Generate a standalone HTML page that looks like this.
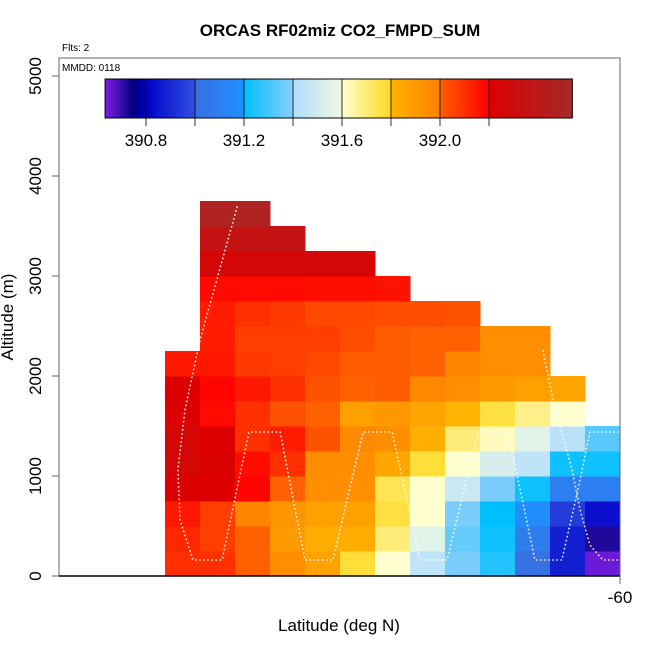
<!DOCTYPE html>
<html><head><meta charset="utf-8"><style>
body{margin:0;background:#fff}
svg{display:block;font-family:"Liberation Sans",sans-serif}
</style></head><body>
<svg id="c" width="650" height="650" viewBox="0 0 650 650">
<text x="340" y="36" text-anchor="middle" font-size="17" font-weight="bold">ORCAS RF02miz CO2_FMPD_SUM</text>
<text x="62" y="51" font-size="10">Flts: 2</text>
<g id="cells"></g>
<g id="track"></g>
<rect x="59" y="58" width="561" height="518" fill="none" stroke="#666" stroke-width="1"/>
<line x1="59" y1="576" x2="620" y2="576" stroke="#000" stroke-width="1.5"/>
<line x1="620" y1="576" x2="620" y2="584" stroke="#666"/>
<text x="620" y="603" text-anchor="middle" font-size="17">-60</text>
<g id="yaxis"></g>
<text x="339" y="631" text-anchor="middle" font-size="17">Latitude (deg N)</text>
<text transform="translate(13,317) rotate(-90)" text-anchor="middle" font-size="17">Altitude (m)</text>
<text x="62" y="71" font-size="10">MMDD: 0118</text>
<g id="cbar"></g>
</svg>
<script>
const NS="http://www.w3.org/2000/svg";
// Data
const latStart=[-73,-72,-71,-70,-69,-68,-67,-66,-65,-64,-63,-62,-61];
const altBin=250;
const col0=[392.10,392.12,392.15,392.20,392.25,392.25,392.22,392.20,392.15];
const col1=[392.10,392.07,392.07,392.20,392.22,392.20,392.18,392.19,392.15,392.14,392.14,392.18,392.25,392.35,392.48];
const col2=[392.00,392.00,391.98,392.19,392.17,392.10,392.10,392.15,392.08,392.07,392.10,392.18,392.25,392.35,392.48];
const col3=[391.94,391.90,391.92,392.00,392.10,392.14,392.03,392.10,392.07,392.07,392.08,392.18,392.25,392.35];
const col4=[391.87,391.83,391.88,391.94,391.95,392.03,392.00,392.03,392.05,392.07,392.05,392.17,392.25];
const col5=[391.77,391.83,391.87,391.94,391.94,391.96,391.88,392.00,392.01,392.04,392.05,392.17,392.25];
const col6=[391.60,391.70,391.76,391.74,391.85,391.94,391.91,392.01,392.01,392.01,392.04,392.16];
const col7=[391.45,391.55,391.60,391.60,391.77,391.82,391.86,391.97,392.00,392.00,392.04];
const col8=[391.38,391.35,391.38,391.48,391.60,391.70,391.80,391.94,391.98,392.00,392.03];
const col9=[391.25,391.22,391.20,391.38,391.52,391.62,391.76,391.90,391.94,391.94];
const col10=[391.02,391.08,391.18,391.22,391.45,391.55,391.68,391.88,391.94,391.94];
const col11=[390.88,390.88,390.95,391.10,391.22,391.43,391.60,391.86];
const col12=[390.65,390.72,390.84,391.10,391.22,391.33];
const columns=[col0,col1,col2,col3,col4,col5,col6,col7,col8,col9,col10,col11,col12];
const trackLat=[-70.94,-72.0,-72.43,-72.63,-72.57,-72.2,-71.37,-70.6,-69.71,-69.0,-68.2,-67.34,-66.51,-65.71,-64.94,-64.06,-63.2,-62.43,-61.66,-61.14,-60.86,-60.0];
const trackAlt=[3690,2360,1660,1060,560,160,160,1440,1440,160,160,1440,1440,160,160,1440,1440,160,160,960,1440,1440];
const track2Lat=[-62.2,-61.91,-61.37,-61.14,-60.86,-60.49,-60.0];
const track2Alt=[2250,1760,1060,660,310,160,160];
const cbTicks=[390.8,391.2,391.6,392.0];
const yTicks=[0,1000,2000,3000,4000,5000];
// scales
const X=l=>620-(-60-l)*35;
const Y=a=>576-a*0.1;
const stops=[[390.63,[128,32,232]],[390.75,[0,0,128]],[390.8,[0,0,200]],[390.999,[48,80,224]],[391.0,[58,110,224]],[391.199,[30,144,255]],[391.2,[0,191,255]],[391.399,[135,206,250]],[391.4,[176,220,255]],[391.599,[240,250,224]],[391.6,[255,255,208]],[391.799,[255,216,32]],[391.8,[255,180,0]],[391.999,[255,128,0]],[392.0,[255,96,0]],[392.199,[255,0,0]],[392.2,[221,0,0]],[392.54,[165,42,42]]];
function cmap(v){
  if(v<=stops[0][0])return 'rgb('+stops[0][1]+')';
  for(let i=1;i<stops.length;i++){if(v<=stops[i][0]){const a=stops[i-1],b=stops[i];const t=(v-a[0])/(b[0]-a[0]);return 'rgb('+a[1].map((c,k)=>Math.round(c+(b[1][k]-c)*t)).join(',')+')';}}
  return 'rgb('+stops[stops.length-1][1]+')';
}
function mk(tag,attrs,parent){const e=document.createElementNS(NS,tag);for(const k in attrs)e.setAttribute(k,attrs[k]);parent.appendChild(e);return e;}
const cells=document.getElementById('cells');
columns.forEach((col,i)=>{col.forEach((v,j)=>{
  const x0=X(latStart[i]),x1=X(latStart[i]+1),y0=Y((j+1)*altBin),y1=Y(j*altBin);
  const r=mk('rect',{x:x0,y:y0,width:x1-x0+0.5,height:y1-y0+0.5,fill:cmap(v)},cells);
  
  
});});
const tr=document.getElementById('track');
function line(lats,alts){
  const p=mk('polyline',{points:lats.map((l,i)=>X(l)+','+Y(alts[i])).join(' '),fill:'none',stroke:'#fff','stroke-width':1.8,'stroke-dasharray':'0.1 4','stroke-linecap':'round',opacity:0.85},tr);
  
  
}
line(trackLat,trackAlt);line(track2Lat,track2Alt);
const ya=document.getElementById('yaxis');
yTicks.forEach(t=>{
  const l=mk('line',{x1:52,x2:59,y1:Y(t),y2:Y(t),stroke:'#666'},ya);
  
  
  const tx=mk('text',{transform:'translate(41,'+Y(t)+') rotate(-90)','text-anchor':'middle','font-size':17},ya);
  tx.textContent=t;
  
  
});
// colorbar
const cb=document.getElementById('cbar');
const cbX=v=>146+(v-390.8)*245;
const vmin=390.633,vmax=392.54;
for(let i=0;i<300;i++){const v0=vmin+(vmax-vmin)*i/300,v1=vmin+(vmax-vmin)*(i+1)/300;
  const r=mk('rect',{x:cbX(v0),y:79,width:cbX(v1)-cbX(v0)+0.4,height:39,fill:cmap((v0+v1)/2)},cb);
  
  }
mk('rect',{x:cbX(vmin),y:79,width:cbX(vmax)-cbX(vmin),height:39,fill:'none',stroke:'#000','stroke-width':1},cb);
for(let v=390.8;v<392.3;v+=0.2){const l=mk('line',{x1:cbX(v),x2:cbX(v),y1:79,y2:126,stroke:'#000','stroke-width':0.8},cb);
  
  }
cbTicks.forEach(t=>{const tx=mk('text',{x:cbX(t),y:146,'text-anchor':'middle','font-size':17},cb);tx.textContent=t.toFixed(1);
  
  });
</script>
</body></html>
